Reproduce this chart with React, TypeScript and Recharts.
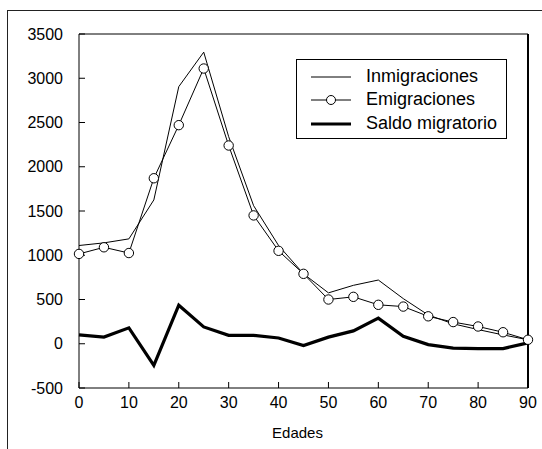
import React from 'react';
import { LineChart, Line, XAxis, YAxis, ReferenceLine } from 'recharts';

const ages = [0, 5, 10, 15, 20, 25, 30, 35, 40, 45, 50, 55, 60, 65, 70, 75, 80, 85, 90];
const inmigraciones = [1110, 1140, 1185, 1625, 2905, 3295, 2340, 1560, 1110, 790, 575, 660, 720, 510, 325, 225, 160, 100, 45];
const emigraciones = [1015, 1090, 1025, 1870, 2470, 3110, 2240, 1450, 1050, 790, 500, 530, 440, 420, 310, 245, 195, 130, 45];
const saldo = [100, 75, 180, -245, 435, 190, 95, 95, 65, -20, 75, 145, 290, 85, -10, -50, -55, -55, 10];
const xTicks = [0, 10, 20, 30, 40, 50, 60, 70, 80, 90];
const yTicks = [-500, 0, 500, 1000, 1500, 2000, 2500, 3000, 3500];
const seriesNames = ['Inmigraciones', 'Emigraciones', 'Saldo migratorio'];
const xTitle = 'Edades';

const data = ages.map((a, i) => ({
  age: a,
  inm: inmigraciones[i],
  emi: emigraciones[i],
  sal: saldo[i],
}));

const FONT = '"Liberation Sans", Arial, Helvetica, sans-serif';

export default function App() {
  return (
    <div style={{ position: 'absolute', left: 0, top: 0, width: 542, height: 449, background: '#fff', fontFamily: FONT }}>
      <div style={{ position: 'absolute', left: 7, top: 10, width: 535, height: 1, background: '#222' }} />
      <div style={{ position: 'absolute', left: 7, top: 10, width: 1, height: 439, background: '#222' }} />
      <LineChart
        width={542}
        height={449}
        data={data}
        margin={{ top: 34, right: 14, left: 0, bottom: 0 }}
        style={{ position: 'absolute', left: 0, top: 0 }}
      >
        <XAxis
          dataKey="age"
          type="number"
          domain={[0, 90]}
          ticks={xTicks}
          interval={0}
          height={61}
          stroke="#000"
          tickSize={-6}
          tickMargin={15}
          tick={{ fill: '#000', fontSize: 16, fontFamily: FONT }}
          label={{ value: xTitle, position: 'insideBottom', offset: 11, dx: -6, fill: '#000', fontSize: 15, fontFamily: FONT }}
        />
        <YAxis
          type="number"
          domain={[-500, 3500]}
          ticks={yTicks}
          interval={0}
          width={79}
          stroke="#000"
          tickSize={-6}
          tickMargin={22}
          tick={{ fill: '#000', fontSize: 16, fontFamily: FONT }}
        />
        <ReferenceLine y={3500} stroke="#000" strokeWidth={1} />
        <ReferenceLine x={90} stroke="#000" strokeWidth={2} />
        <Line type="linear" dataKey="inm" name={seriesNames[0]} stroke="#000" strokeWidth={1} dot={false} isAnimationActive={false} />
        <Line type="linear" dataKey="sal" name={seriesNames[2]} stroke="#000" strokeWidth={3.2} dot={false} isAnimationActive={false} />
        <Line
          type="linear"
          dataKey="emi"
          name={seriesNames[1]}
          stroke="#000"
          strokeWidth={1}
          dot={{ r: 4.7, fill: '#fff', stroke: '#000', strokeWidth: 1 }}
          isAnimationActive={false}
        />
      </LineChart>
      <div
        style={{
          position: 'absolute',
          left: 296,
          top: 59,
          width: 209,
          height: 78,
          border: '1px solid #000',
          background: '#fff',
          fontSize: 18,
          fontFamily: FONT,
          color: '#000',
        }}
      >
        {seriesNames.map((name, i) => (
          <div key={name} style={{ position: 'absolute', left: 0, top: 5 + i * 23.3, height: 23, width: 209 }}>
            <svg width={50} height={23} style={{ position: 'absolute', left: 10, top: 0 }}>
              <line x1={4} x2={44} y1={12} y2={12} stroke="#000" strokeWidth={i === 2 ? 3.2 : 1} />
              {i === 1 && <circle cx={24} cy={12} r={4.5} fill="#fff" stroke="#000" strokeWidth={1} />}
            </svg>
            <span style={{ position: 'absolute', left: 69, top: 1, lineHeight: '21px', whiteSpace: 'nowrap' }}>{name}</span>
          </div>
        ))}
      </div>
    </div>
  );
}
